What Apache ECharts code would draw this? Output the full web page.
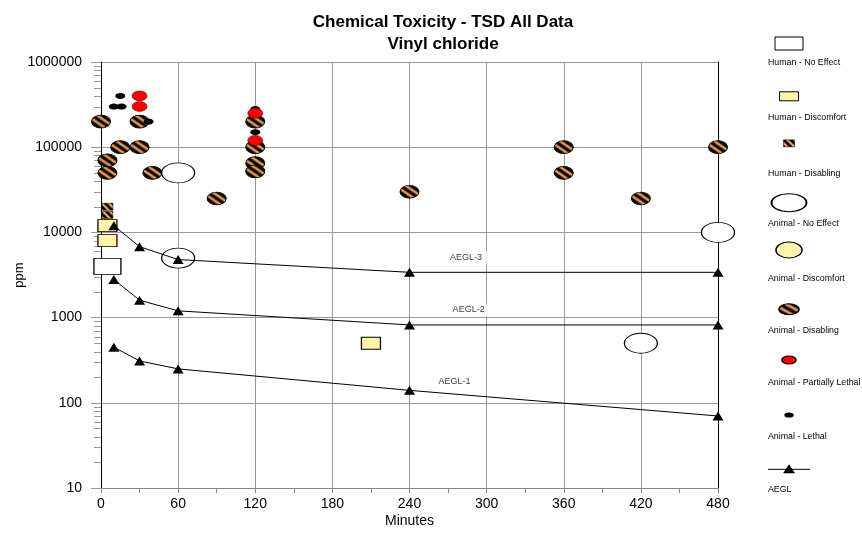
<!DOCTYPE html>
<html><head><meta charset="utf-8">
<script src="https://cdn.jsdelivr.net/npm/echarts@6/dist/echarts.min.js"></script>
<style>html,body{margin:0;padding:0;background:#fff}#c{width:862px;height:535px}</style>
</head><body><div id="c"></div>
<script>
// ---- data ----
const humanNoEffectT = [5];
const humanNoEffectV = [4000];
const humanDiscomfortT = [5, 5, 210];
const humanDiscomfortV = [12000, 8000, 500];
const humanDisablingT = [5, 5];
const humanDisablingV = [20000, 16000];
const animalNoEffectT = [60, 60, 420, 480];
const animalNoEffectV = [50000, 5000, 500, 10000];
const animalDiscomfortT = [];
const animalDiscomfortV = [];
const animalDisablingT = [0, 5, 5, 15, 30, 30, 40, 90, 120, 120, 120, 120, 240, 360, 360, 420, 480];
const animalDisablingV = [200000, 70000, 50000, 100000, 200000, 100000, 50000, 25000, 200000, 100000, 65000, 52000, 30000, 100000, 50000, 25000, 100000];
const animalPartLethalT = [30, 30, 120, 120];
const animalPartLethalV = [400000, 300000, 250000, 120000];
const animalLethalT = [15, 10, 16, 37, 120, 120];
const animalLethalV = [400000, 300000, 300000, 200000, 280000, 150000];
const aeglT = [10, 30, 60, 240, 480];
const aegl1 = [450, 310, 250, 140, 70];
const aegl2 = [2800, 1600, 1200, 820, 820];
const aegl3 = [12000, 6800, 4800, 3400, 3400];
const aeglLabels = ['AEGL-1', 'AEGL-2', 'AEGL-3'];
const aeglLabelT = [275, 286, 284];
const aeglLabelV = [180, 1230, 5100];
const yMinorTicks = [20,30,40,50,60,70,80,90,200,300,400,500,600,700,800,900,
  2000,3000,4000,5000,6000,7000,8000,9000,20000,30000,40000,50000,60000,70000,80000,90000,
  200000,300000,400000,500000,600000,700000,800000,900000];
const legendNames = ['Human - No Effect','Human - Discomfort','Human - Disabling','Animal - No Effect',
  'Animal - Discomfort','Animal - Disabling','Animal - Partially Lethal','Animal - Lethal','AEGL'];

// ---- styles ----
const FONT = 'Liberation Sans, Arial, sans-serif';
const ORANGE = '#F5A24C';
const YELLOW = '#FFF5A8';
function makeStripe(n) {
  const c = document.createElement('canvas');
  c.width = c.height = n;
  const g = c.getContext('2d');
  g.fillStyle = ORANGE; g.fillRect(0, 0, n, n);
  g.strokeStyle = '#000'; g.lineWidth = n * 0.4;
  g.beginPath();
  for (const o of [-n, 0, n]) { g.moveTo(o - 1, -1); g.lineTo(o + n + 1, n + 1); }
  g.stroke();
  return c;
}
const stripe = { image: makeStripe(7), repeat: 'repeat' };
const pts = (t, v) => t.map((x, i) => [x, v[i]]);

const scatterBase = { type: 'scatter', animation: false, silent: true };

function stripedSeries(name, t, v, kind, w, h) {
  return { name: name, type: 'custom', silent: true, animation: false, clip: false, data: pts(t, v),
    renderItem: (p, api) => {
      const c = api.coord([api.value(0), api.value(1)]);
      if (kind === 'rect') {
        return { type: 'rect', shape: { x: c[0] - w / 2, y: c[1] - h / 2, width: w, height: h },
          style: { fill: stripe, stroke: '#000', lineWidth: 0.5 } };
      }
      return { type: 'circle', x: c[0], y: c[1], scaleX: w / h, shape: { cx: 0, cy: 0, r: h / 2 },
        style: { fill: stripe, stroke: '#000', lineWidth: 0.7, strokeNoScale: true } };
    } };
}

const series = [
  Object.assign({}, scatterBase, { name: legendNames[0], symbol: 'rect', symbolSize: [27, 16],
    data: pts(humanNoEffectT, humanNoEffectV), itemStyle: { color: '#fff', borderColor: '#000', borderWidth: 1, opacity: 1 } }),
  stripedSeries(legendNames[2], humanDisablingT, humanDisablingV, 'rect', 11, 7),
  Object.assign({}, scatterBase, { name: legendNames[1], symbol: 'rect', symbolSize: [19, 12],
    data: pts(humanDiscomfortT, humanDiscomfortV), itemStyle: { color: YELLOW, borderColor: '#000', borderWidth: 1, opacity: 1 } }),
  Object.assign({}, scatterBase, { name: legendNames[3], symbol: 'circle', symbolSize: [33, 20],
    data: pts(animalNoEffectT, animalNoEffectV), itemStyle: { color: '#fff', borderColor: '#000', borderWidth: 1, opacity: 1 } }),
  Object.assign({}, scatterBase, { name: legendNames[4], symbol: 'circle', symbolSize: [26, 16],
    data: pts(animalDiscomfortT, animalDiscomfortV), itemStyle: { color: YELLOW, borderColor: '#000', borderWidth: 1, opacity: 1 } }),
  stripedSeries(legendNames[5], animalDisablingT, animalDisablingV, 'ellipse', 19, 13),
  Object.assign({}, scatterBase, { name: legendNames[7], symbol: 'circle', symbolSize: [10, 6],
    data: pts(animalLethalT, animalLethalV), itemStyle: { color: '#000', opacity: 1 } }),
  Object.assign({}, scatterBase, { name: legendNames[6], symbol: 'circle', symbolSize: [15, 10],
    data: pts(animalPartLethalT, animalPartLethalV), itemStyle: { color: '#FF0000', borderColor: '#400', borderWidth: 0.5, opacity: 1 } })
];
[aegl1, aegl2, aegl3].forEach((arr, k) => {
  series.push({ name: aeglLabels[k], type: 'line', animation: false, silent: true,
    data: pts(aeglT, arr), symbol: 'triangle', symbolSize: [11, 9], showSymbol: true,
    lineStyle: { color: '#000', width: 1 }, itemStyle: { color: '#000' }, z: 5 });
});
series.push(Object.assign({}, scatterBase, { name: 'aeglLabels', symbolSize: 0, z: 4,
  data: aeglLabelT.map((t, i) => ({ value: [t, aeglLabelV[i]], name: aeglLabels[i] })),
  label: { show: true, position: 'inside', formatter: p => p.name, fontSize: 9, fontFamily: FONT, color: '#000',
    backgroundColor: '#fff', padding: [2, 5] } }));
series.push({ type: 'custom', silent: true, clip: false, animation: false, z: 1,
  data: yMinorTicks.map(v => [0, v]),
  renderItem: (p, api) => {
    const c = api.coord([0, api.value(1)]);
    const y = Math.round(c[1]) + 0.5;
    return { type: 'line', shape: { x1: c[0] - 7, y1: y, x2: c[0], y2: y }, style: { stroke: '#999', lineWidth: 1 } };
  } });

// ---- legend (drawn) ----
const LX = 789, TX = 768;
const g = [];
const ell = (cx, cy, rx, ry, fill) => ({ type: 'circle', x: cx, y: cy, scaleX: rx / ry, shape: { cx: 0, cy: 0, r: ry },
  style: { fill: fill, stroke: '#000', lineWidth: 1, strokeNoScale: true } });
const symYs = [43.5, 96.3, 143.3, 202.7, 250, 309.3, 360, 415, 469.3];
const txtYs = [63, 118, 173.3, 224, 278.3, 331, 382.7, 436.7, 490];
g.push({ type: 'rect', shape: { x: LX - 14, y: symYs[0] - 6.5, width: 28, height: 13 }, style: { fill: '#fff', stroke: '#000', lineWidth: 1 } });
g.push({ type: 'rect', shape: { x: LX - 9.5, y: symYs[1] - 4.5, width: 19, height: 9 }, style: { fill: YELLOW, stroke: '#000', lineWidth: 1 } });
g.push({ type: 'rect', shape: { x: LX - 5.5, y: symYs[2] - 3.5, width: 11, height: 7 }, style: { fill: stripe, stroke: '#000', lineWidth: 0.5 } });
g.push(ell(LX, symYs[3], 17.5, 9, '#fff'));
g.push(ell(LX, symYs[4], 13, 8, YELLOW));
g.push(ell(LX, symYs[5], 10, 5.5, stripe));
g.push(ell(LX, symYs[6], 7, 4, '#FF0000'));
g.push({ type: 'circle', x: LX, y: symYs[7], scaleX: 1.8, shape: { cx: 0, cy: 0, r: 2.6 }, style: { fill: '#000' } });
g.push({ type: 'line', shape: { x1: LX - 21, y1: symYs[8], x2: LX + 21, y2: symYs[8] }, style: { stroke: '#000', lineWidth: 1 } });
g.push({ type: 'polygon', shape: { points: [[LX, symYs[8] - 5], [LX - 6, symYs[8] + 4], [LX + 6, symYs[8] + 4]] }, style: { fill: '#000' } });
legendNames.forEach((n, i) => g.push({ type: 'text', x: TX, y: txtYs[i],
  style: { text: n, fontSize: 8.8, fontFamily: FONT, fill: '#000', textAlign: 'left', textVerticalAlign: 'middle' } }));

const chart = echarts.init(document.getElementById('c'), null, { renderer: 'canvas' });
chart.setOption({
  backgroundColor: '#fff',
  animation: false,
  title: { text: 'Chemical Toxicity - TSD All Data\nVinyl chloride', left: 443, top: 11, padding: 0, textAlign: 'center',
    textStyle: { fontSize: 17, fontWeight: 'bold', fontFamily: FONT, color: '#000', lineHeight: 22 } },
  grid: { left: 101, right: 144, top: 62, bottom: 47, containLabel: false, outerBoundsMode: 'none' },
  xAxis: { type: 'value', min: 0, max: 480, interval: 60,
    name: 'Minutes', nameLocation: 'middle', nameGap: 26, nameMoveOverlap: false, nameTextStyle: { fontSize: 14, fontFamily: FONT, color: '#000' },
    axisLine: { show: true, lineStyle: { color: '#888', width: 1 } },
    axisTick: { show: true, length: 5, lineStyle: { color: '#888' } },
    minorTick: { show: true, splitNumber: 2, length: 5, lineStyle: { color: '#888' } },
    axisLabel: { fontSize: 14, fontFamily: FONT, color: '#000', margin: 9 },
    splitLine: { show: true, lineStyle: { color: '#999', width: 1 } } },
  yAxis: [{ type: 'log', logBase: 10, min: 10, max: 1000000,
    name: 'ppm', nameLocation: 'middle', nameGap: 75, nameRotate: 90, nameMoveOverlap: false, nameTextStyle: { fontSize: 13, fontFamily: FONT, color: '#000' },
    axisLine: { show: true, lineStyle: { color: '#000', width: 1 } },
    axisTick: { show: true, length: 10, lineStyle: { color: '#999' } },
    axisLabel: { fontSize: 14, fontFamily: FONT, color: '#000', margin: 19, formatter: v => String(Math.round(v)) },
    splitLine: { show: true, lineStyle: { color: '#999', width: 1 } } },
  { type: 'log', logBase: 10, min: 10, max: 1000000, position: 'right',
    axisLine: { show: true, lineStyle: { color: '#000', width: 1 } },
    axisTick: { show: false }, axisLabel: { show: false }, splitLine: { show: false } }],
  series: series,
  graphic: g
});
</script>
</body></html>
